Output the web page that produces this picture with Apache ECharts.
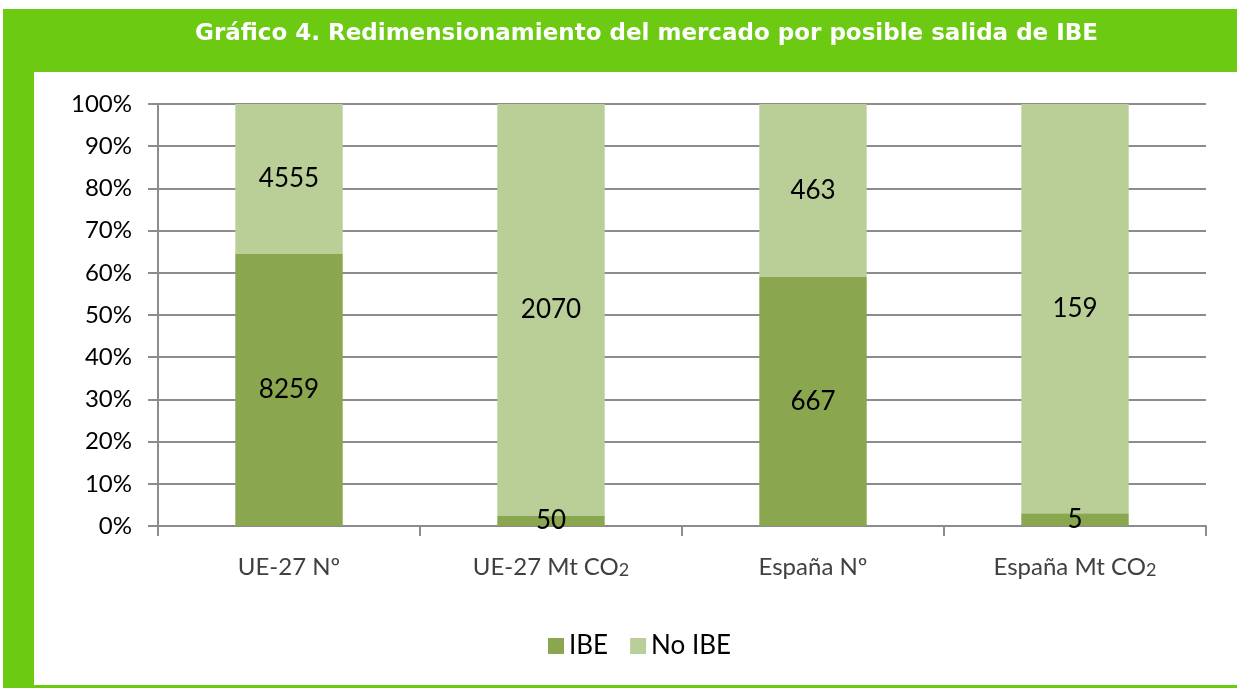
<!DOCTYPE html>
<html>
<head>
<meta charset="utf-8">
<script src="https://cdn.jsdelivr.net/npm/echarts@6/dist/echarts.min.js"></script>
<style>
  html, body { margin: 0; padding: 0; background: #fff; }
  #chart { width: 1237px; height: 688px; }
</style>
</head>
<body>
<div id="chart"></div>
<script>
// datos del gráfico
const categories = ['UE-27 Nº', 'UE-27 Mt CO2', 'España Nº', 'España Mt CO2']
const ibe = [8259, 50, 667, 5]
const noIbe = [4555, 2070, 463, 159]
const yTicks = [0, 10, 20, 30, 40, 50, 60, 70, 80, 90, 100]

const green = '#6cca12'
const font = 'Lato, "DejaVu Sans", sans-serif'

// porcentajes para el apilado al 100%
const totals = ibe.map((v, i) => v + noIbe[i])
const ibePct = ibe.map((v, i) => v / totals[i] * 100)
const noIbePct = noIbe.map((v, i) => v / totals[i] * 100)

let myChart = echarts.init(document.getElementById('chart'))

let option = {
  animation: false,
  backgroundColor: '#fff',
  graphic: [
    { type: 'rect', shape: { x: 3, y: 9, width: 1234, height: 63 }, style: { fill: green }, z: 0 },
    { type: 'rect', shape: { x: 3, y: 72, width: 31, height: 616 }, style: { fill: green }, z: 0 },
    { type: 'rect', shape: { x: 34, y: 685, width: 1203, height: 3 }, style: { fill: green }, z: 0 },
    {
      type: 'text',
      left: 195,
      top: 23,
      z: 5,
      style: {
        text: 'Gráfico 4. Redimensionamiento del mercado por posible salida de IBE',
        fill: '#fff',
        font: 'bold 23px "DejaVu Sans", sans-serif'
      }
    }
  ],
  legend: {
    bottom: 24,
    left: 543,
    itemWidth: 16,
    itemHeight: 16,
    itemGap: 22,
    icon: 'rect',
    textStyle: { fontSize: 26, color: '#000', fontFamily: font },
    data: ['IBE', 'No IBE']
  },
  grid: {
    left: 158,
    right: 31,
    top: 104,
    bottom: 162
  },
  xAxis: {
    type: 'category',
    data: categories,
    axisLine: { lineStyle: { color: '#8c8c8c', width: 2 } },
    axisTick: { show: true, interval: 0, length: 10, lineStyle: { color: '#8c8c8c', width: 2 } },
    axisLabel: {
      interval: 0,
      hideOverlap: false,
      color: '#404040',
      fontSize: 24,
      fontFamily: font,
      margin: 29,
      formatter: function (v) {
        return v.replace('CO2', 'CO{sub|2}')
      },
      rich: {
        sub: { fontSize: 18, fontFamily: font, color: '#404040', verticalAlign: 'bottom', padding: [6, 0, 0, 0] }
      }
    }
  },
  yAxis: {
    type: 'value',
    min: 0,
    max: 100,
    interval: 10,
    axisLine: { show: true, lineStyle: { color: '#8c8c8c', width: 2 } },
    axisTick: { show: true, length: 10, inside: false, lineStyle: { color: '#8c8c8c', width: 2 } },
    splitLine: { lineStyle: { color: '#8c8c8c', width: 2 } },
    axisLabel: {
      color: '#000',
      fontSize: 24,
      fontFamily: font,
      margin: 26,
      formatter: function (v) {
        return yTicks.indexOf(v) >= 0 ? v + '%' : ''
      }
    }
  },
  series: [
    {
      name: 'IBE',
      type: 'bar',
      stack: 'total',
      barWidth: '41%',
      data: ibePct,
      itemStyle: { color: '#8aa64e' },
      label: {
        show: true,
        position: 'inside',
        color: '#000',
        fontSize: 26,
        fontFamily: font,
        formatter: function (p) { return ibe[p.dataIndex] }
      }
    },
    {
      name: 'No IBE',
      type: 'bar',
      stack: 'total',
      data: noIbePct,
      itemStyle: { color: '#b9cf97' },
      label: {
        show: true,
        position: 'inside',
        color: '#000',
        fontSize: 26,
        fontFamily: font,
        formatter: function (p) { return noIbe[p.dataIndex] }
      }
    }
  ]
}

myChart.setOption(option)
</script>
</body>
</html>
